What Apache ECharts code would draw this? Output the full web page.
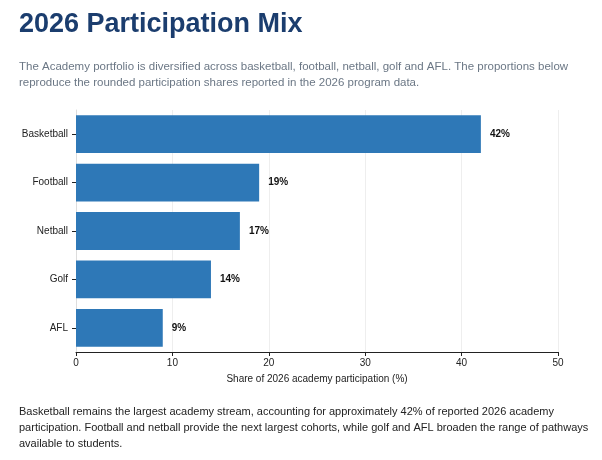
<!DOCTYPE html>
<html><head><meta charset="utf-8">
<script src="https://cdn.jsdelivr.net/npm/echarts@6/dist/echarts.min.js"></script>
<style>body{margin:0}#c{width:602px;height:460px}</style>
</head><body><div id="c"></div>
<script>
var categories = ['Basketball', 'Football', 'Netball', 'Golf', 'AFL'];
var shares = [42, 19, 17, 14, 9];
var xTicks = [0, 10, 20, 30, 40, 50];

var chart = echarts.init(document.getElementById('c'));
var font = 'Liberation Sans, Arial, sans-serif';
chart.setOption({
	animation: false,
	textStyle: { fontFamily: font },
	title: [{
		text: '2026 Participation Mix', left: 14, top: 6,
		textStyle: { fontSize: 27, fontWeight: 'bold', color: '#1b3d6e', fontFamily: font }
	}, {
		text: 'The Academy portfolio is diversified across basketball, football, netball, golf and AFL. The proportions below\nreproduce the rounded participation shares reported in the 2026 program data.',
		left: 14, top: 54,
		textStyle: { fontSize: 11.5, fontWeight: 'normal', color: '#6b7785', lineHeight: 16, fontFamily: font }
	}, {
		text: 'Basketball remains the largest academy stream, accounting for approximately 42% of reported 2026 academy\nparticipation. Football and netball provide the next largest cohorts, while golf and AFL broaden the range of pathways\navailable to students.',
		left: 14, top: 399,
		textStyle: { fontSize: 11, fontWeight: 'normal', color: '#222', lineHeight: 16, fontFamily: font }
	}],
	grid: { left: 76, right: 44, top: 110, bottom: 108 },
	xAxis: {
		type: 'value', min: 0, max: 50, interval: 10,
		name: 'Share of 2026 academy participation (%)', nameLocation: 'middle', nameGap: 22,
		nameTextStyle: { fontSize: 10, color: '#222' },
		axisLine: { show: true, lineStyle: { color: '#222' } },
		axisTick: { show: true, length: 4, lineStyle: { color: '#222' } },
		axisLabel: { fontSize: 10, color: '#222', margin: 6 },
		splitLine: { show: true, lineStyle: { color: '#eeeeee' } }
	},
	yAxis: {
		type: 'category', data: categories, inverse: true,
		axisLine: { show: true, lineStyle: { color: '#dddddd' } },
		axisTick: { show: true, alignWithLabel: true, length: 4, lineStyle: { color: '#222' } },
		axisLabel: { fontSize: 10, color: '#222', margin: 8 }
	},
	series: [{
		type: 'bar', data: shares, barWidth: '78%',
		itemStyle: { color: '#2e78b7' },
		label: { show: true, position: 'right', distance: 9, formatter: '{c}%', fontSize: 10, fontWeight: 'bold', color: '#111' }
	}]
});
</script></body></html>
